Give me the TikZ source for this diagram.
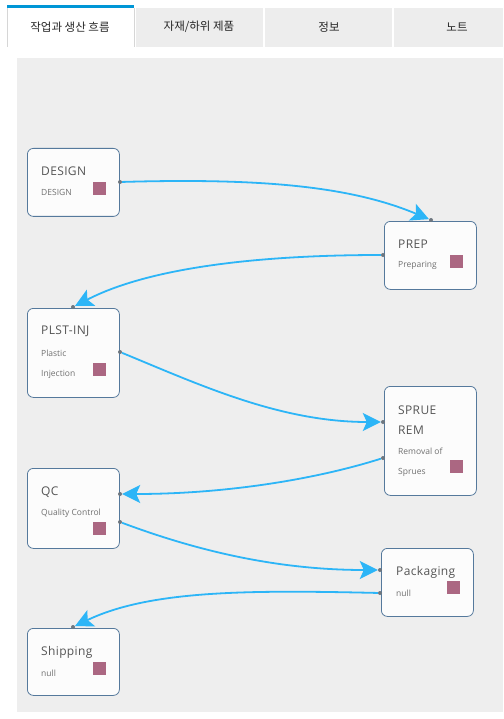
\documentclass[tikz,border=0pt]{standalone}
\usepackage{fontspec}
\setmainfont{Open Sans}
\newfontfamily\krfont{Noto Sans CJK KR}
\newfontfamily\titlefont[LetterSpace=3]{Open Sans}
\usetikzlibrary{arrows.meta}

\definecolor{canvasgray}{HTML}{EEEEEE}
\definecolor{tabgray}{HTML}{EDEDED}
\definecolor{tabblue}{HTML}{0096D6}
\definecolor{tabedge}{HTML}{D6D6D6}
\definecolor{cardline}{HTML}{55799C}
\definecolor{cardfill}{HTML}{FCFCFC}
\definecolor{swatch}{HTML}{AB6782}
\definecolor{portgray}{HTML}{6E7780}
\definecolor{flowblue}{HTML}{2CB5F7}
\definecolor{titlegray}{HTML}{555555}
\definecolor{subgray}{HTML}{707070}

\tikzset{
  tabtext/.style={font=\krfont\fontsize{11.5}{13}\selectfont, text=black!85, inner sep=0},
  card/.style={draw=cardline, fill=cardfill, rounded corners=6pt, line width=0.8pt,
               anchor=north west, inner sep=0, minimum width=92pt},
  cardtitle/.style={anchor=west, inner sep=0, text=titlegray,
                    font=\titlefont\fontsize{12}{14}\selectfont},
  cardsub/.style={anchor=west, inner sep=0, text=subgray,
                  font=\fontsize{8.5}{10}\selectfont},
  swatchbox/.style={anchor=north west, fill=swatch, inner sep=0, minimum size=13pt},
  port/.style={circle, fill=portgray, inner sep=0, minimum size=4pt},
  flow/.style={draw=flowblue, line width=1.8pt,
               -{Stealth[length=18pt,width=18pt,inset=4pt]}}
}

\begin{document}
\begin{tikzpicture}[x=1pt,y=-1pt]
\useasboundingbox (0,0) rectangle (503,719);
\fill[white] (0,0) rectangle (503,719);

% tab strip
\fill[tabgray] (136,8) rectangle (263,47);
\fill[tabgray] (265,8) rectangle (392,47);
\fill[tabgray] (394,8) rectangle (503,47);
\fill[tabblue] (7,5) rectangle (134,8);
\draw[tabedge, line width=0.6pt] (7,8) -- (7,47) (134,8) -- (134,47);
\node[tabtext] (tab1) at (70,27) {작업과 생산 흐름};
\node[tabtext] (tab2) at (199,27) {자재/하위 제품};
\node[tabtext] (tab3) at (329,27) {정보};
\node[tabtext] (tab4) at (457,27) {노트};

% canvas
\fill[canvasgray] (17,58) rectangle (503,712);

% DESIGN
\node[card, minimum height=68pt] (design) at (27,148) {};
\node[cardtitle] (designT) at (41,171) {DESIGN};
\node[cardsub] (designS) at (41,192) {DESIGN};
\node[swatchbox] (designC) at (93,182) {};

% PREP
\node[card, minimum height=68pt] (prep) at (384,221) {};
\node[cardtitle] (prepT) at (398,244) {PREP};
\node[cardsub] (prepS) at (398,265) {Preparing};
\node[swatchbox] (prepC) at (450,255) {};

% PLST-INJ
\node[card, minimum height=89pt] (plst) at (27,308) {};
\node[cardtitle] (plstT) at (41,331) {PLST-INJ};
\node[cardsub] (plstS1) at (41,353) {Plastic};
\node[cardsub] (plstS2) at (41,374) {Injection};
\node[swatchbox] (plstC) at (93,363) {};

% SPRUE REM
\node[card, minimum height=109pt] (sprue) at (384,386) {};
\node[cardtitle] (sprueT1) at (398,410) {SPRUE};
\node[cardtitle] (sprueT2) at (398,430) {REM};
\node[cardsub] (sprueS1) at (398,451) {Removal of};
\node[cardsub] (sprueS2) at (398,472) {Sprues};
\node[swatchbox] (sprueC) at (450,460) {};

% QC
\node[card, minimum height=80pt] (qc) at (27,468) {};
\node[cardtitle] (qcT) at (41,492) {QC};
\node[cardsub] (qcS) at (41,513) {Quality Control};
\node[swatchbox] (qcC) at (93,522) {};

% Packaging
\node[card, minimum height=68pt] (pack) at (381,548) {};
\node[cardtitle] (packT) at (396,572) {Packaging};
\node[cardsub] (packS) at (396,593) {null};
\node[swatchbox] (packC) at (447,581) {};

% Shipping
\node[card, minimum height=67pt] (ship) at (27,628) {};
\node[cardtitle] (shipT) at (41,652) {Shipping};
\node[cardsub] (shipS) at (41,673) {null};
\node[swatchbox] (shipC) at (93,662) {};

% connection ports
\node[port] (designOut) at (120,182) {};
\node[port] (prepIn)    at (431,220) {};
\node[port] (prepOut)   at (383,255) {};
\node[port] (plstIn)    at (73,307) {};
\node[port] (plstOut)   at (120,352) {};
\node[port] (sprueIn)   at (383,422) {};
\node[port] (sprueOut)  at (383,458) {};
\node[port] (qcIn)      at (120,494) {};
\node[port] (qcOut)     at (120,522) {};
\node[port] (packIn)    at (380,570) {};
\node[port] (packOut)   at (380,593) {};
\node[port] (shipIn)    at (73,627) {};

% flow connectors
\draw[flow] (designOut) .. controls (260,178) and (350,186) .. (prepIn);
\draw[flow] (prepOut) .. controls (290,255) and (160,262) .. (plstIn);
\draw[flow] (plstOut) .. controls (200,385) and (280,422) .. (sprueIn);
\draw[flow] (sprueOut) .. controls (320,478) and (230,494) .. (qcIn);
\draw[flow] (qcOut) .. controls (200,552) and (280,570) .. (packIn);
\draw[flow] (packOut) .. controls (250,590) and (150,590) .. (shipIn);
\end{tikzpicture}
\end{document}
